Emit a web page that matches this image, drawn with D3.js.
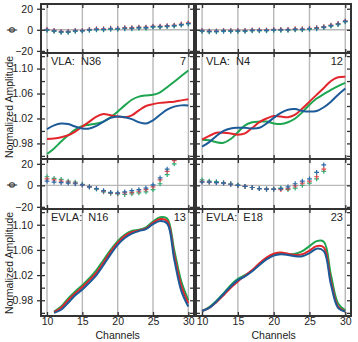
<!DOCTYPE html>
<html><head><meta charset="utf-8">
<script src="https://cdn.jsdelivr.net/npm/d3@7"></script>
<style>
body{margin:0;background:#fff}
svg{display:block}
text{font-family:"Liberation Sans",Arial,sans-serif;fill:#222}
</style>
</head><body>
<svg id="c" width="358" height="342"></svg>
<script>
// ---------- data ----------
const channels = d3.range(10, 31);          // 10..30
const chTicks = [10, 15, 20, 25, 30];
const phaseTicks = [-20, 0, 20];
const ampTicks = [0.98, 1.02, 1.06, 1.10];
const ampMinorTicks = [0.96, 1.00, 1.04, 1.08, 1.12];

// phases (degrees), top row
const phN36Blue  = [0,-1,-2,-2,-1,-1,0,0.5,0.5,1,1,1.5,1.5,2,2,3,3,3.5,4,5,6];
const phN36Red   = [0.5,-0.5,-1.5,-1.5,-0.5,-0.5,0.5,1,1,1.5,1.5,2,2,2.5,2.5,3.5,3.5,4,4.5,5.5,6.5];
const phN36Green = [-0.5,-1.5,-2.5,-2.5,-1.5,-1,-0.5,0,0,0.5,0.5,1,1,1.5,1.5,2.5,2.5,3,3.5,4.5,5.5];
const phN4Blue   = [-1,-1.5,-1.5,-1,-1,-1,-1,-0.5,-0.5,-0.5,0,0,0,0.5,0.5,1,1.5,2.5,4,5.5,8];
const phN4Red    = [-0.5,-1,-1,-0.5,-0.5,-0.5,-0.5,0,0,0,0.5,0.5,0.5,1,1,1.5,2,3,4.5,6,8.5];
const phN4Green  = [-1.5,-2,-2,-1.5,-1.5,-1.5,-1.5,-1,-1,-1,-0.5,-0.5,-0.5,0,0,0.5,1,2,3.5,5,7.5];
// phases, third row (channels 10..28 and 10..27)
const phN16Chan  = d3.range(10, 29);
const phN16Blue  = [4,3,2.5,2,1.5,0.5,-1.5,-3,-5,-6.5,-7,-6,-5,-4,-2.5,0.5,7,15,25];
const phN16Red   = [6,5,4,3,2,0.5,-1.5,-3,-5.5,-7,-7.5,-7,-6.5,-5.5,-4,-1.5,5,13,23];
const phN16Green = [8,6.5,5.5,4,3,1,-1.5,-3.5,-6,-7.5,-8,-8.5,-8,-7,-6,-4,1.5,10,20];
const phE18Chan  = d3.range(10, 28);
const phE18Blue  = [3,3,2.5,2,1,0,-1,-2,-3,-3.5,-3.5,-3,-1.5,1.5,4,6,12,19];
const phE18Red   = [3.5,3,2.5,2,1,0,-1,-2,-3,-3.5,-3.5,-4,-3,-0.5,2,4,8,15];
const phE18Green = [5,4,3.5,2.5,1.5,0.5,-1,-2,-3,-3.5,-3.5,-2.5,-4,-2.5,0,2,6,13];

// normalized amplitudes
const amN36Blue  = [1.003,1.009,1.012,1.011,1.007,1.004,1.004,1.008,1.015,1.021,1.023,1.022,1.019,1.014,1.012,1.017,1.026,1.034,1.039,1.041,1.041];
const amN36Red   = [0.987,0.988,0.990,0.993,0.999,1.007,1.015,1.023,1.027,1.025,1.023,1.022,1.025,1.033,1.040,1.043,1.045,1.046,1.047,1.049,1.051];
const amN36Green = [0.963,0.972,0.983,0.993,1.002,1.008,1.010,1.012,1.015,1.022,1.031,1.041,1.050,1.055,1.057,1.058,1.062,1.070,1.079,1.088,1.097];
const amN4Blue   = [0.975,0.982,0.992,1.000,1.004,1.005,1.005,1.004,1.005,1.012,1.021,1.029,1.034,1.035,1.032,1.031,1.032,1.038,1.047,1.058,1.068];
const amN4Red    = [0.986,0.992,0.997,0.997,0.996,0.994,0.996,1.005,1.014,1.020,1.024,1.023,1.022,1.026,1.036,1.047,1.058,1.069,1.080,1.086,1.087];
const amN4Green  = [0.986,0.985,0.982,0.981,0.987,0.998,1.009,1.014,1.015,1.015,1.012,1.011,1.014,1.020,1.030,1.042,1.052,1.059,1.066,1.072,1.077];
const amN16Chan  = d3.range(11, 31);
const amN16Blue  = [0.960,0.965,0.976,0.988,0.997,1.008,1.020,1.036,1.053,1.068,1.079,1.086,1.090,1.093,1.101,1.106,1.102,1.045,0.995,0.970];
const amN16Red   = [0.961,0.968,0.980,0.991,1.001,1.012,1.024,1.040,1.057,1.071,1.082,1.088,1.091,1.094,1.103,1.109,1.106,1.052,1.003,0.975];
const amN16Green = [0.962,0.970,0.983,0.994,1.004,1.015,1.028,1.044,1.060,1.074,1.084,1.090,1.092,1.096,1.105,1.112,1.110,1.060,1.010,0.980];
const amE18Blue  = [0.963,0.968,0.978,0.990,1.002,1.012,1.018,1.026,1.036,1.045,1.051,1.053,1.052,1.050,1.050,1.055,1.062,1.058,1.005,0.968,0.962];
const amE18Red   = [0.963,0.968,0.977,0.988,1.000,1.010,1.019,1.028,1.039,1.048,1.054,1.056,1.054,1.052,1.053,1.059,1.066,1.064,1.010,0.970,0.962];
const amE18Green = [0.963,0.969,0.979,0.991,1.004,1.014,1.020,1.027,1.037,1.047,1.053,1.055,1.053,1.054,1.058,1.066,1.074,1.073,1.020,0.975,0.964];

const labels = [["VLA:\u00a0 N36","7"],["VLA:\u00a0 N4","12"],["EVLA:\u00a0 N16","13"],["EVLA:\u00a0 E18","23"]];

// ---------- layout ----------
const svg = d3.select("#c");
const colX = [[41,194],[196,351]];
const rowY = [[4,53],[53,159],[159,209],[209,316]];
const xDomain = [9.15, 30.8];
const phaseDomain = [-22, 24.5];
const ampDomain = [0.955, 1.125];
const lineCol = {blue:"#1c5a98", red:"#e2262c", green:"#1ea550"};
const markCol = {blue:"#2a6aa6", red:"#e24a4a", green:"#2cae78"};
const gridCol = "#b8b8b8", frameCol = "#333";
const FONT = "Liberation Sans, Arial, sans-serif";

const panels = [
  {c:0,r:0,type:"phase",ch:channels,s:{green:phN36Green,red:phN36Red,blue:phN36Blue}},
  {c:1,r:0,type:"phase",ch:channels,s:{green:phN4Green,red:phN4Red,blue:phN4Blue}},
  {c:0,r:1,type:"amp",ch:channels,s:{green:amN36Green,red:amN36Red,blue:amN36Blue},lab:labels[0]},
  {c:1,r:1,type:"amp",ch:channels,s:{green:amN4Green,red:amN4Red,blue:amN4Blue},lab:labels[1]},
  {c:0,r:2,type:"phase",ch:phN16Chan,s:{green:phN16Green,red:phN16Red,blue:phN16Blue}},
  {c:1,r:2,type:"phase",ch:phE18Chan,s:{green:phE18Green,red:phE18Red,blue:phE18Blue}},
  {c:0,r:3,type:"amp",ch:amN16Chan,s:{green:amN16Green,red:amN16Red,blue:amN16Blue},lab:labels[2]},
  {c:1,r:3,type:"amp",ch:channels,s:{green:amE18Green,red:amE18Red,blue:amE18Blue},lab:labels[3]},
];

const defs = svg.append("defs");

panels.forEach((p,i)=>{
  const [x0,x1] = colX[p.c], [y0,y1] = rowY[p.r];
  const x = d3.scaleLinear().domain(xDomain).range([x0,x1]);
  const y = d3.scaleLinear().domain(p.type==="phase"?phaseDomain:ampDomain).range([y1,y0]);
  const cid = "clip"+i;
  defs.append("clipPath").attr("id",cid).append("rect")
    .attr("x",x0).attr("y",y0).attr("width",x1-x0).attr("height",y1-y0);
  const g = svg.append("g");
  const gc = g.append("g").attr("clip-path",`url(#${cid})`);
  // grid
  gc.selectAll(".vg").data(chTicks).join("line")
    .attr("x1",d=>x(d)).attr("x2",d=>x(d)).attr("y1",y0).attr("y2",y1)
    .attr("stroke",gridCol).attr("stroke-width",1.4);
  if(p.type==="phase"){
    gc.append("line").attr("x1",x0).attr("x2",x1).attr("y1",y(0)).attr("y2",y(0))
      .attr("stroke",gridCol).attr("stroke-width",1.4);
    ["green","red","blue"].forEach(k=>{
      gc.selectAll(".m"+k).data(p.s[k].map((v,j)=>[p.ch[j],v])).join("path")
        .attr("transform",d=>`translate(${x(d[0])},${y(d[1])})`)
        .attr("d","M-2.4,0H2.4M0,-2.4V2.4")
        .attr("stroke",markCol[k]).attr("stroke-width",1.2).attr("fill","none");
    });
  } else {
    const line = d3.line().x(d=>x(d[0])).y(d=>y(d[1])).curve(d3.curveCatmullRom.alpha(0.5));
    ["green","red","blue"].forEach(k=>{
      gc.append("path").datum(p.s[k].map((v,j)=>[p.ch[j],v]))
        .attr("d",line).attr("fill","none").attr("stroke",lineCol[k])
        .attr("stroke-width",2).attr("stroke-linejoin","round");
    });
    g.append("text").attr("x",x0+10).attr("y",y0+11.5).attr("font-size",11).text(p.lab[0]);
    g.append("text").attr("x",x1-8).attr("y",y0+11.5).attr("font-size",11)
      .attr("text-anchor","end").text(p.lab[1]);
  }
  // inward ticks
  const yt = p.type==="phase" ? phaseTicks : ampTicks.concat(ampMinorTicks);
  const axL = g.append("g").attr("transform",`translate(${x0},0)`)
    .call(d3.axisLeft(y).tickValues(yt).tickSize(-4).tickFormat(""));
  const axR = g.append("g").attr("transform",`translate(${x1},0)`)
    .call(d3.axisRight(y).tickValues(yt).tickSize(-4).tickFormat(""));
  const axT = g.append("g").attr("transform",`translate(0,${y0})`)
    .call(d3.axisTop(x).tickValues(chTicks).tickSize(-4).tickFormat(""));
  const axB = g.append("g").attr("transform",`translate(0,${y1})`)
    .call(d3.axisBottom(x).tickValues(chTicks).tickSize(-4).tickFormat(""));
  [axL,axR,axT,axB].forEach(a=>{
    a.select(".domain").remove();
    a.selectAll("line").attr("stroke",frameCol).attr("stroke-width",1.3);
  });
  // left tick labels
  if(p.c===0){
    const yl = p.type==="phase" ? phaseTicks : ampTicks;
    const al = g.append("g").attr("transform",`translate(${x0},0)`)
      .call(d3.axisLeft(y).tickValues(yl).tickSize(4).tickPadding(4)
        .tickFormat(p.type==="phase"?d3.format("d"):d3.format(".2f")));
    al.select(".domain").remove();
    al.selectAll("line").attr("stroke",frameCol).attr("stroke-width",1.3);
    al.selectAll("text").attr("font-size",10.5).attr("font-family",FONT).attr("fill","#222");
  }
  // bottom labels
  if(p.r===3){
    const ab = g.append("g").attr("transform",`translate(0,${y1})`)
      .call(d3.axisBottom(x).tickValues(chTicks).tickSize(0).tickPadding(2));
    ab.select(".domain").remove();
    ab.selectAll("text").attr("font-size",10.5).attr("font-family",FONT).attr("fill","#222");
    g.append("text").attr("x",x(20)).attr("y",339).attr("text-anchor","middle")
      .attr("font-size",10.5).text("Channels");
  }
  // frame
  g.append("rect").attr("x",x0).attr("y",y0).attr("width",x1-x0).attr("height",y1-y0)
    .attr("fill","none").attr("stroke",frameCol).attr("stroke-width",2);
});

// y-axis titles
[[9,107],[9,263]].forEach(([tx,ty])=>{
  svg.append("text").attr("transform",`translate(${tx},${ty}) rotate(-90)`)
    .attr("text-anchor","middle").attr("dy","0.35em").attr("font-size",10.5)
    .text("Normalized Amplitude");
});
[[11,30],[11,185]].forEach(([tx,ty])=>{
  svg.append("text").attr("transform",`translate(${tx},${ty}) rotate(-90)`)
    .attr("text-anchor","middle").attr("dy","0.35em").attr("font-size",11)
    .text("ϕ");
});
</script>
</body></html>
